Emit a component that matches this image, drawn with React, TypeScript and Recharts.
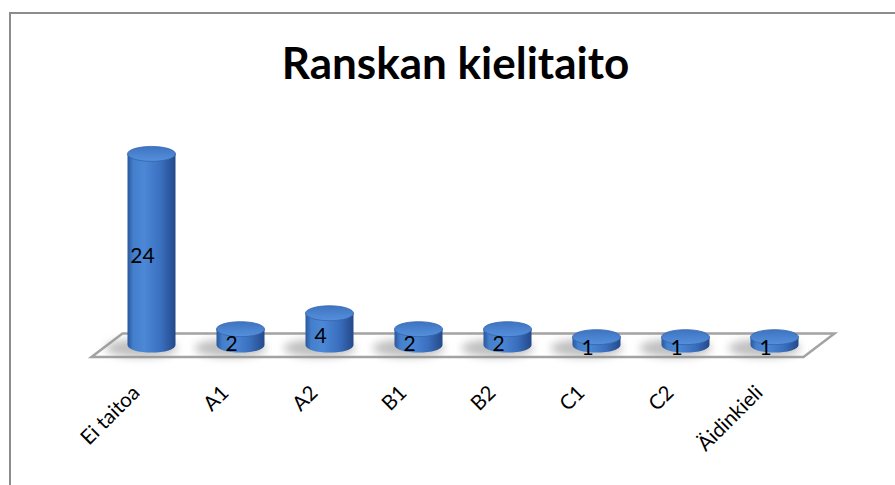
import React from "react";
import {
  BarChart,
  Bar,
  XAxis,
  YAxis,
  ReferenceArea,
  LabelList,
} from "recharts";

const categories = ["Ei taitoa", "A1", "A2", "B1", "B2", "C1", "C2", "Äidinkieli"];
const values = [24, 2, 4, 2, 2, 1, 1, 1];

const data = categories.map((name, i) => ({ name, value: values[i] }));

const FONT = "Lato, 'Open Sans', 'Noto Sans', sans-serif";

function Cylinder(props: any) {
  const { x, y, width, height } = props;
  const rx = width / 2;
  const ry = 7.5;
  const cx = x + rx;
  const bottom = y + height;
  return (
    <g>
      <ellipse cx={cx - 10} cy={bottom + 3} rx={rx + 12} ry={9} fill="#8a8a8a" opacity={0.55} filter="url(#shadowBlur)" />
      <path
        d={`M${x},${y} L${x},${bottom} A${rx},${ry} 0 0 0 ${x + width},${bottom} L${x + width},${y} Z`}
        fill="url(#cylBody)"
      />
      <ellipse cx={cx} cy={y} rx={rx} ry={ry} fill="url(#cylTop)" stroke="#3463ab" strokeWidth={0.8} />
    </g>
  );
}

function Floor(props: any) {
  const { x, y, width, height } = props;
  const back = 16;
  const front = -15;
  const pts = [
    [x + back, y],
    [x + width + back, y],
    [x + width + front, y + height],
    [x + front, y + height],
  ]
    .map((p) => p.join(","))
    .join(" ");
  return <polygon points={pts} fill="#ffffff" stroke="#a3a3a3" strokeWidth={2.5} />;
}

function CatTick(props: any) {
  const { x, y, payload } = props;
  const tx = x - 10;
  const ty = y + 25;
  return (
    <text
      x={tx}
      y={ty}
      textAnchor="end"
      transform={`rotate(-45 ${tx} ${ty})`}
      fontFamily={FONT}
      fontSize={20.5}
      fill="#000"
    >
      {payload.value}
    </text>
  );
}

function ValueLabel(props: any) {
  const { x, y, width, height, value } = props;
  return (
    <text
      x={x + width / 2 - 9}
      y={y + height / 2 + 5}
      textAnchor="middle"
      dominantBaseline="central"
      fontFamily={FONT}
      fontSize={21}
      fill="#000"
    >
      {value}
    </text>
  );
}

export default function App() {
  return (
    <div style={{ position: "absolute", left: 0, top: 0, width: 895, height: 485, background: "#fff", overflow: "hidden" }}>
      <div
        style={{
          position: "absolute",
          left: 9,
          top: 12,
          width: 900,
          height: 500,
          border: "2px solid #8c8c8c",
          boxSizing: "border-box",
        }}
      />
      <div
        style={{
          position: "absolute",
          left: 0,
          width: 911,
          top: 34,
          textAlign: "center",
          fontFamily: FONT,
          fontWeight: 700,
          fontSize: 44,
          lineHeight: "56px",
          color: "#000",
        }}
      >
        Ranskan kielitaito
      </div>
      <div style={{ position: "absolute", left: 0, top: 0 }}>
        <BarChart
          width={895}
          height={485}
          data={data}
          margin={{ top: 130, right: 76.5, bottom: 56, left: 106.5 }}
          barSize={48}
        >
          <defs>
            <linearGradient id="cylBody" x1="0" y1="0" x2="1" y2="0">
              <stop offset="0%" stopColor="#2a569c" />
              <stop offset="12%" stopColor="#447fcc" />
              <stop offset="35%" stopColor="#4c88d6" />
              <stop offset="70%" stopColor="#3a6fbe" />
              <stop offset="100%" stopColor="#24498a" />
            </linearGradient>
            <linearGradient id="cylTop" x1="0" y1="0" x2="0" y2="1">
              <stop offset="0%" stopColor="#3e74c2" />
              <stop offset="100%" stopColor="#5590dc" />
            </linearGradient>
            <filter id="shadowBlur" x="-50%" y="-100%" width="200%" height="300%">
              <feGaussianBlur stdDeviation="4" />
            </filter>
          </defs>
          <XAxis
            dataKey="name"
            axisLine={false}
            tickLine={false}
            tickSize={0}
            tickMargin={0}
            height={60}
            interval={0}
            tick={<CatTick />}
          />
          <YAxis hide domain={[-3, 27]} allowDataOverflow />
          <ReferenceArea y1={-1.5} y2={1.45} shape={<Floor />} ifOverflow="visible" />
          <Bar dataKey="value" shape={<Cylinder />} isAnimationActive={false}>
            <LabelList dataKey="value" content={<ValueLabel />} />
          </Bar>
        </BarChart>
      </div>
    </div>
  );
}
